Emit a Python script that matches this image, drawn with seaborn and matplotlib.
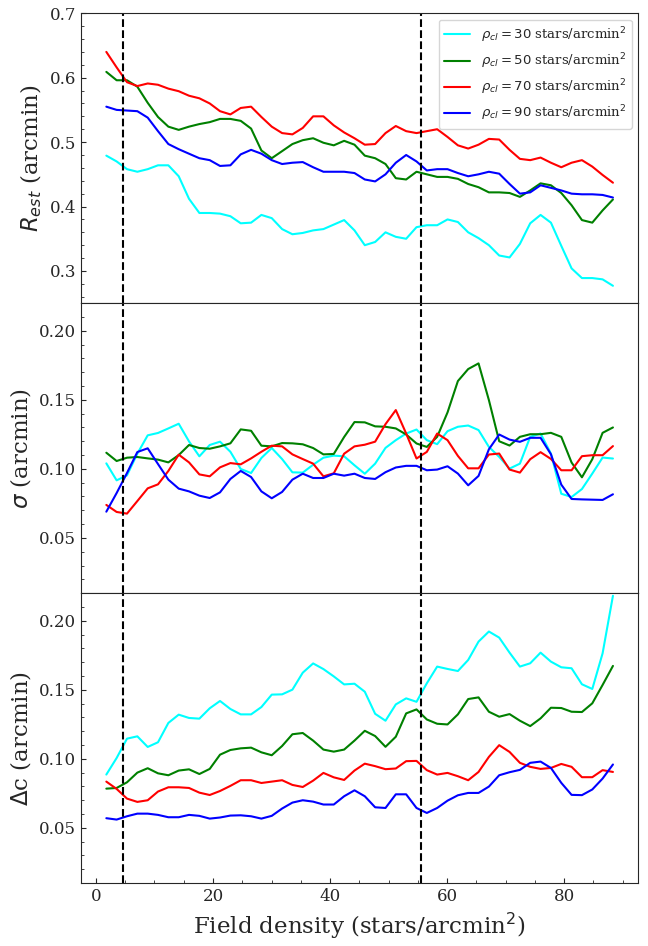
import matplotlib
matplotlib.use("Agg")
import matplotlib.pyplot as plt
import seaborn as sns
from matplotlib.ticker import AutoMinorLocator

# Field density grid (stars/arcmin^2)
field_density = [
    1.77, 3.53, 5.30, 7.07, 8.84, 10.60, 12.37, 14.14, 15.90, 17.67,
    19.44, 21.20, 22.97, 24.74, 26.51, 28.27, 30.04, 31.81, 33.57, 35.34,
    37.11, 38.87, 40.64, 42.41, 44.18, 45.94, 47.71, 49.48, 51.24, 53.01,
    54.78, 56.54, 58.31, 60.08, 61.85, 63.61, 65.38, 67.15, 68.91, 70.68,
    72.45, 74.21, 75.98, 77.75, 79.52, 81.28, 83.05, 84.82, 86.58, 88.35,
]

cluster_densities = [30, 50, 70, 90]
colors = ["cyan", "green", "red", "blue"]
vlines = [4.7, 55.5]

# R_est (arcmin)
r_est_30 = [
    0.479, 0.470, 0.458, 0.454, 0.458, 0.464, 0.464, 0.447, 0.412, 0.390,
    0.390, 0.389, 0.385, 0.374, 0.375, 0.387, 0.382, 0.365, 0.357, 0.359,
    0.363, 0.365, 0.372, 0.379, 0.363, 0.340, 0.345, 0.360, 0.353, 0.350,
    0.368, 0.371, 0.371, 0.380, 0.376, 0.360, 0.351, 0.340, 0.324, 0.321,
    0.342, 0.374, 0.387, 0.375, 0.339, 0.304, 0.289, 0.289, 0.287, 0.277,
]
r_est_50 = [
    0.609, 0.596, 0.596, 0.586, 0.561, 0.539, 0.524, 0.519, 0.524, 0.528,
    0.531, 0.536, 0.536, 0.533, 0.521, 0.487, 0.475, 0.486, 0.497, 0.503,
    0.506, 0.499, 0.495, 0.502, 0.496, 0.479, 0.475, 0.466, 0.444, 0.442,
    0.454, 0.450, 0.446, 0.446, 0.443, 0.435, 0.430, 0.422, 0.422, 0.421,
    0.415, 0.425, 0.436, 0.433, 0.421, 0.402, 0.379, 0.375, 0.394, 0.411,
]
r_est_70 = [
    0.640, 0.616, 0.593, 0.587, 0.591, 0.589, 0.583, 0.579, 0.572, 0.568,
    0.560, 0.548, 0.543, 0.553, 0.555, 0.539, 0.524, 0.514, 0.512, 0.522,
    0.540, 0.540, 0.526, 0.515, 0.506, 0.496, 0.497, 0.514, 0.525, 0.517,
    0.514, 0.517, 0.520, 0.508, 0.495, 0.490, 0.496, 0.505, 0.504, 0.488,
    0.474, 0.472, 0.476, 0.468, 0.461, 0.468, 0.472, 0.462, 0.449, 0.437,
]
r_est_90 = [
    0.555, 0.550, 0.549, 0.548, 0.538, 0.517, 0.497, 0.489, 0.482, 0.475,
    0.472, 0.463, 0.464, 0.481, 0.488, 0.482, 0.472, 0.466, 0.468, 0.469,
    0.461, 0.454, 0.454, 0.454, 0.452, 0.442, 0.439, 0.450, 0.468, 0.480,
    0.470, 0.456, 0.458, 0.458, 0.452, 0.447, 0.450, 0.454, 0.451, 0.435,
    0.420, 0.422, 0.433, 0.429, 0.425, 0.420, 0.419, 0.419, 0.418, 0.414,
]

# sigma (arcmin)
sigma_30 = [
    0.1040, 0.0917, 0.0953, 0.1110, 0.1243, 0.1260, 0.1293, 0.1327, 0.1199, 0.1091,
    0.1173, 0.1197, 0.1124, 0.0999, 0.0970, 0.1079, 0.1151, 0.1071, 0.0975, 0.0973,
    0.1030, 0.1081, 0.1096, 0.1091, 0.1026, 0.0965, 0.1038, 0.1152, 0.1208, 0.1256,
    0.1285, 0.1208, 0.1179, 0.1273, 0.1305, 0.1314, 0.1281, 0.1159, 0.1087, 0.1002,
    0.1038, 0.1232, 0.1256, 0.1111, 0.0820, 0.0796, 0.0854, 0.0966, 0.1082, 0.1075,
]
sigma_50 = [
    0.1117, 0.1057, 0.1081, 0.1086, 0.1076, 0.1067, 0.1047, 0.1100, 0.1173, 0.1151,
    0.1146, 0.1163, 0.1185, 0.1286, 0.1276, 0.1168, 0.1163, 0.1187, 0.1185, 0.1178,
    0.1151, 0.1105, 0.1108, 0.1231, 0.1339, 0.1337, 0.1308, 0.1305, 0.1293, 0.1249,
    0.1184, 0.1159, 0.1232, 0.1409, 0.1636, 0.1723, 0.1764, 0.1498, 0.1200, 0.1169,
    0.1232, 0.1251, 0.1251, 0.1261, 0.1232, 0.1046, 0.0939, 0.1070, 0.1261, 0.1300,
]
sigma_70 = [
    0.0739, 0.0688, 0.0676, 0.0767, 0.0859, 0.0888, 0.0985, 0.1103, 0.1047, 0.0960,
    0.0946, 0.1011, 0.1042, 0.1033, 0.1076, 0.1124, 0.1168, 0.1163, 0.1105, 0.1071,
    0.1038, 0.0946, 0.0968, 0.1110, 0.1163, 0.1175, 0.1197, 0.1324, 0.1426, 0.1256,
    0.1075, 0.1123, 0.1256, 0.1208, 0.1094, 0.1004, 0.1004, 0.1104, 0.1111, 0.0995,
    0.0973, 0.1070, 0.1121, 0.1072, 0.0990, 0.0990, 0.1092, 0.1099, 0.1099, 0.1165,
]
sigma_90 = [
    0.0690, 0.0825, 0.0970, 0.1122, 0.1149, 0.1035, 0.0922, 0.0857, 0.0837, 0.0806,
    0.0789, 0.0830, 0.0927, 0.0985, 0.0941, 0.0837, 0.0787, 0.0833, 0.0922, 0.0965,
    0.0934, 0.0934, 0.0965, 0.0951, 0.0965, 0.0934, 0.0927, 0.0976, 0.1010, 0.1022,
    0.1022, 0.0990, 0.0995, 0.1019, 0.0966, 0.0881, 0.0949, 0.1142, 0.1249, 0.1212,
    0.1196, 0.1225, 0.1225, 0.1106, 0.0886, 0.0782, 0.0779, 0.0777, 0.0775, 0.0816,
]

# Delta c (arcmin)
dc_30 = [
    0.0886, 0.1006, 0.1146, 0.1163, 0.1086, 0.1120, 0.1260, 0.1320, 0.1296, 0.1291,
    0.1366, 0.1419, 0.1361, 0.1322, 0.1322, 0.1375, 0.1465, 0.1467, 0.1501, 0.1624,
    0.1691, 0.1650, 0.1597, 0.1539, 0.1544, 0.1486, 0.1326, 0.1276, 0.1394, 0.1438,
    0.1413, 0.1547, 0.1668, 0.1651, 0.1636, 0.1716, 0.1849, 0.1922, 0.1878, 0.1769,
    0.1668, 0.1692, 0.1769, 0.1704, 0.1663, 0.1656, 0.1540, 0.1506, 0.1764, 0.2181,
]
dc_50 = [
    0.0784, 0.0789, 0.0830, 0.0900, 0.0932, 0.0895, 0.0881, 0.0915, 0.0924, 0.0890,
    0.0927, 0.1030, 0.1064, 0.1076, 0.1081, 0.1047, 0.1026, 0.1093, 0.1178, 0.1187,
    0.1132, 0.1067, 0.1052, 0.1067, 0.1132, 0.1203, 0.1165, 0.1087, 0.1160, 0.1329,
    0.1358, 0.1285, 0.1254, 0.1249, 0.1322, 0.1433, 0.1445, 0.1341, 0.1305, 0.1324,
    0.1276, 0.1237, 0.1293, 0.1370, 0.1368, 0.1341, 0.1339, 0.1402, 0.1535, 0.1673,
]
dc_70 = [
    0.0835, 0.0782, 0.0712, 0.0688, 0.0700, 0.0763, 0.0794, 0.0794, 0.0789, 0.0755,
    0.0738, 0.0767, 0.0804, 0.0845, 0.0845, 0.0825, 0.0835, 0.0845, 0.0811, 0.0796,
    0.0842, 0.0898, 0.0866, 0.0847, 0.0915, 0.0965, 0.0947, 0.0925, 0.0930, 0.0983,
    0.0985, 0.0918, 0.0886, 0.0898, 0.0874, 0.0845, 0.0905, 0.1014, 0.1099, 0.1050,
    0.0971, 0.0942, 0.0927, 0.0934, 0.0963, 0.0942, 0.0867, 0.0867, 0.0918, 0.0905,
]
dc_90 = [
    0.0570, 0.0560, 0.0584, 0.0603, 0.0603, 0.0594, 0.0577, 0.0577, 0.0594, 0.0587,
    0.0567, 0.0575, 0.0589, 0.0591, 0.0584, 0.0567, 0.0587, 0.0640, 0.0683, 0.0700,
    0.0690, 0.0669, 0.0669, 0.0729, 0.0772, 0.0729, 0.0649, 0.0644, 0.0743, 0.0743,
    0.0644, 0.0608, 0.0644, 0.0697, 0.0736, 0.0753, 0.0753, 0.0799, 0.0881, 0.0903,
    0.0920, 0.0971, 0.0980, 0.0934, 0.0826, 0.0739, 0.0737, 0.0778, 0.0857, 0.0959,
]

panels = [
    ([r_est_30, r_est_50, r_est_70, r_est_90], r"$R_{est}$ (arcmin)", (0.25, 0.7)),
    ([sigma_30, sigma_50, sigma_70, sigma_90], r"$\sigma$ (arcmin)", (0.01, 0.22)),
    ([dc_30, dc_50, dc_70, dc_90], r"$\Delta$c (arcmin)", (0.01, 0.22)),
]

sns.set_style("ticks", {"xtick.direction": "in", "ytick.direction": "in"})
plt.rcParams["font.family"] = ["DejaVu Serif"]
plt.rcParams["mathtext.fontset"] = "dejavusans"

fig, axes = plt.subplots(3, 1, figsize=(6.48, 9.46), dpi=100, sharex=True)
fig.subplots_adjust(left=0.125, right=0.985, top=0.986, bottom=0.0665, hspace=0)

for i, (ax, (series, ylabel, ylim)) in enumerate(zip(axes, panels)):
    for vals, rho, col in zip(series, cluster_densities, colors):
        sns.lineplot(
            x=field_density, y=vals, color=col, ax=ax, lw=1.5,
            label=rf"$\rho_{{cl}} = {rho}$ stars/arcmin$^2$" if i == 0 else None,
            legend=(i == 0),
        )
    for xv in vlines:
        ax.axvline(xv, color="k", ls="--", lw=1.5)
    ax.set_ylim(*ylim)
    ax.set_ylabel(ylabel, fontsize=16.5)
    ax.yaxis.set_minor_locator(AutoMinorLocator())
    ax.tick_params(axis="y", which="both", left=True, labelsize=12)
    if i < 2:
        ax.tick_params(axis="x", which="both", bottom=False)
    else:
        ax.xaxis.set_minor_locator(AutoMinorLocator())
        ax.tick_params(axis="x", which="both", bottom=True, labelsize=12)

axes[0].legend(loc="upper right", fontsize=9.5)
axes[2].set_xlabel(r"Field density (stars/arcmin$^2$)", fontsize=16.5)

fig.savefig("out.png", dpi=100)
